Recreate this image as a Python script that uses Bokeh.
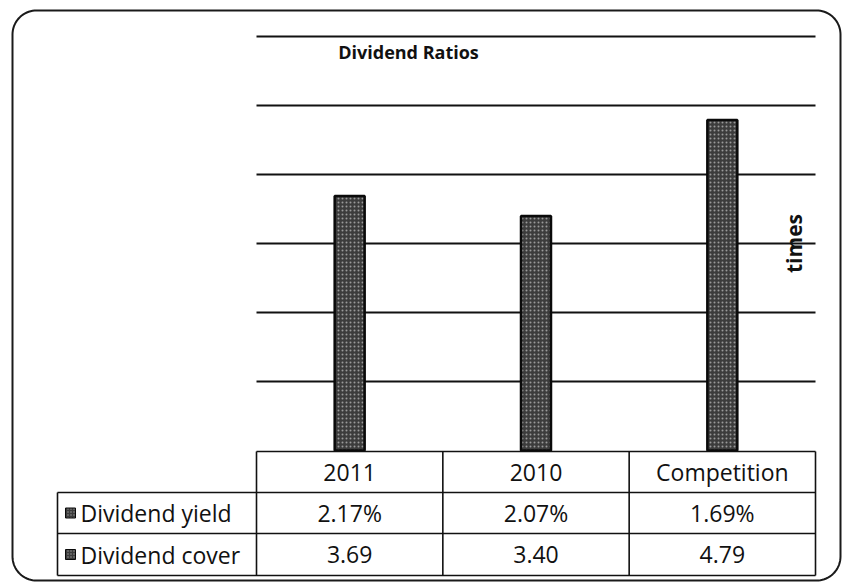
import numpy as np
from bokeh.plotting import figure
from bokeh.models import Range1d
from bokeh.core.properties import value
from bokeh.embed import file_html
from bokeh.resources import INLINE

# ---------------- data ----------------
categories = ["2011", "2010", "Competition"]
dividend_yield = [2.17, 2.07, 1.69]      # percent
dividend_cover = [3.69, 3.40, 4.79]      # times
series_names = ["Dividend yield", "Dividend cover"]
grid_ticks = [1, 2, 3, 4, 5, 6]
title_text = "Dividend Ratios"
axis_title = "times"

yield_labels = [f"{v:.2f}%" for v in dividend_yield]
cover_labels = [f"{v:.2f}" for v in dividend_cover]

# ---------------- layout (page pixels) ----------------
W, H = 846, 584
OFF = 0
TABLE_L, LABEL_R, TABLE_R = 57, 256, 815
COL_W = (TABLE_R - LABEL_R) / len(categories)
ROW_Y = [451, 492, 533, 575]
ZERO_Y, UNIT_PX = 450, 69.0
BAR_W_PX = 30
FONT = value("Open Sans")

x_start = (OFF - LABEL_R) / COL_W
x_end = len(categories) + (OFF + W - TABLE_R) / COL_W
y_start = (ZERO_Y - (OFF + H)) / UNIT_PX
y_end = (ZERO_Y - OFF) / UNIT_PX

p = figure(width=W, height=H, output_backend="svg", toolbar_location=None,
           x_range=Range1d(x_start, x_end), y_range=Range1d(y_start, y_end),
           x_axis_location=None, y_axis_location=None, min_border=0)
p.extra_x_ranges = {"px": Range1d(OFF, OFF + W)}
p.extra_y_ranges = {"px": Range1d(OFF + H, OFF)}
p.outline_line_color = None
p.background_fill_color = "white"
p.border_fill_color = "white"
p.xgrid.visible = False
p.ygrid.visible = False

# gridlines (value units)
n = len(categories)
p.segment(x0=[0] * len(grid_ticks), x1=[n] * len(grid_ticks), y0=grid_ticks, y1=grid_ticks,
          line_color="#111111", line_width=2)

# bars: dividend cover
xs = [i + 0.5 for i in range(n)]
p.vbar(x=xs, top=dividend_cover, bottom=0, width=BAR_W_PX / COL_W,
       fill_color="#3c3c3c", line_color="#0a0a0a", line_width=2.5,
       hatch_pattern="dot", hatch_color="#9a9a9a", hatch_scale=4, hatch_weight=1)

# table lines (page px)
hx0, hx1, hy = [], [], []
hx0.append(LABEL_R); hx1.append(TABLE_R); hy.append(ROW_Y[0])
for y in ROW_Y[1:]:
    hx0.append(TABLE_L); hx1.append(TABLE_R); hy.append(y)
p.segment(x0=hx0, x1=hx1, y0=hy, y1=hy, x_range_name="px", y_range_name="px",
          line_color="#111111", line_width=1.6)
vx = [TABLE_L] + [LABEL_R + COL_W * i for i in range(n + 1)]
vy0 = [ROW_Y[1]] + [ROW_Y[0]] * (n + 1)
vy1 = [ROW_Y[-1]] * (n + 2)
p.segment(x0=vx, x1=vx, y0=vy0, y1=vy1, x_range_name="px", y_range_name="px",
          line_color="#111111", line_width=1.6)

# table texts
cx = [LABEL_R + COL_W * (i + 0.5) for i in range(n)]
rows_text = [categories, yield_labels, cover_labels]
for r, texts in enumerate(rows_text):
    cy = (ROW_Y[r] + ROW_Y[r + 1]) / 2
    p.text(x=cx, y=[cy] * n, text=texts, x_range_name="px", y_range_name="px",
           text_align="center", text_baseline="middle", text_font=FONT,
           text_font_size="23px", text_color="#111111")

# row labels with legend markers
ly = [(ROW_Y[r] + ROW_Y[r + 1]) / 2 for r in (1, 2)]
p.rect(x=[70, 70], y=ly, width=10, height=10, x_range_name="px", y_range_name="px",
       fill_color="#3c3c3c", line_color="#0a0a0a", line_width=1,
       hatch_pattern="dot", hatch_color="#9a9a9a", hatch_scale=3, hatch_weight=1)
p.text(x=[80, 80], y=ly, text=series_names, x_range_name="px", y_range_name="px",
       text_align="left", text_baseline="middle", text_font=FONT,
       text_font_size="23px", text_color="#111111")

# title and axis title
p.text(x=[408], y=[51], text=[title_text], x_range_name="px", y_range_name="px",
       text_align="center", text_baseline="middle", text_font=FONT,
       text_font_size="18px", text_font_style="bold", text_color="#111111")
p.text(x=[793], y=[243], text=[axis_title], angle=np.pi / 2,
       x_range_name="px", y_range_name="px",
       text_align="center", text_baseline="middle", text_font=FONT,
       text_font_size="21px", text_font_style="bold", text_color="#111111")

# outer rounded border
L, T, R, B, RAD = 12, 10, 840, 580, 24
def arc(cx_, cy_, a0, a1):
    t = np.linspace(a0, a1, 20)
    return list(cx_ + RAD * np.cos(t)), list(cy_ + RAD * np.sin(t))
bx, by = [], []
for (ax, ay, a0, a1) in [(L + RAD, T + RAD, np.pi, 1.5 * np.pi),
                         (R - RAD, T + RAD, 1.5 * np.pi, 2 * np.pi),
                         (R - RAD, B - RAD, 0, 0.5 * np.pi),
                         (L + RAD, B - RAD, 0.5 * np.pi, np.pi)]:
    a, b = arc(ax, ay, a0, a1)
    bx += a; by += b
bx.append(bx[0]); by.append(by[0])
p.line(x=bx, y=by, x_range_name="px", y_range_name="px", line_color="#1a1a1a", line_width=2)

open("out.html", "w").write(file_html(p, INLINE))
